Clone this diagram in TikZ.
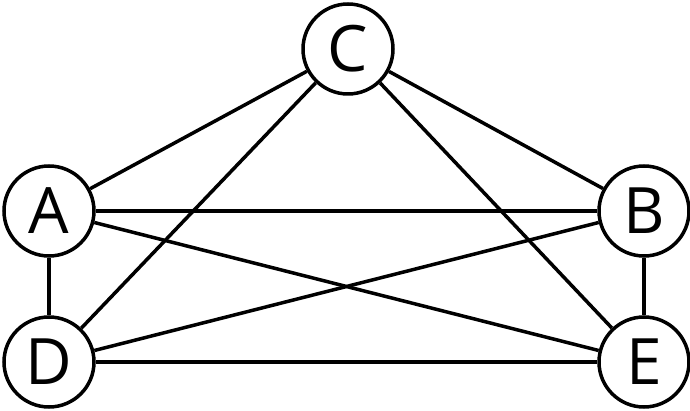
\documentclass[tikz,border=0pt]{standalone}
\usepackage{fontspec}
\setmainfont{Open Sans}
\begin{document}
\begin{tikzpicture}[x=1pt,y=-1pt,
  vert/.style={circle,draw,line width=3.5pt,minimum size=90pt,inner sep=0pt,font=\fontsize{64}{64}\selectfont},
  edge/.style={line width=3.5pt}]
\useasboundingbox (0,0) rectangle (690,411);
\node[vert] (C) at (348,49) {C};
\node[vert] (A) at (49,211) {A};
\node[vert] (B) at (644,211) {B};
\node[vert] (D) at (49,362) {D};
\node[vert] (E) at (644,362) {E};
\draw[edge] (A) -- (C);
\draw[edge] (C) -- (B);
\draw[edge] (A) -- (B);
\draw[edge] (A) -- (E);
\draw[edge] (A) -- (D);
\draw[edge] (C) -- (D);
\draw[edge] (C) -- (E);
\draw[edge] (B) -- (D);
\draw[edge] (B) -- (E);
\draw[edge] (D) -- (E);
\end{tikzpicture}
\end{document}
